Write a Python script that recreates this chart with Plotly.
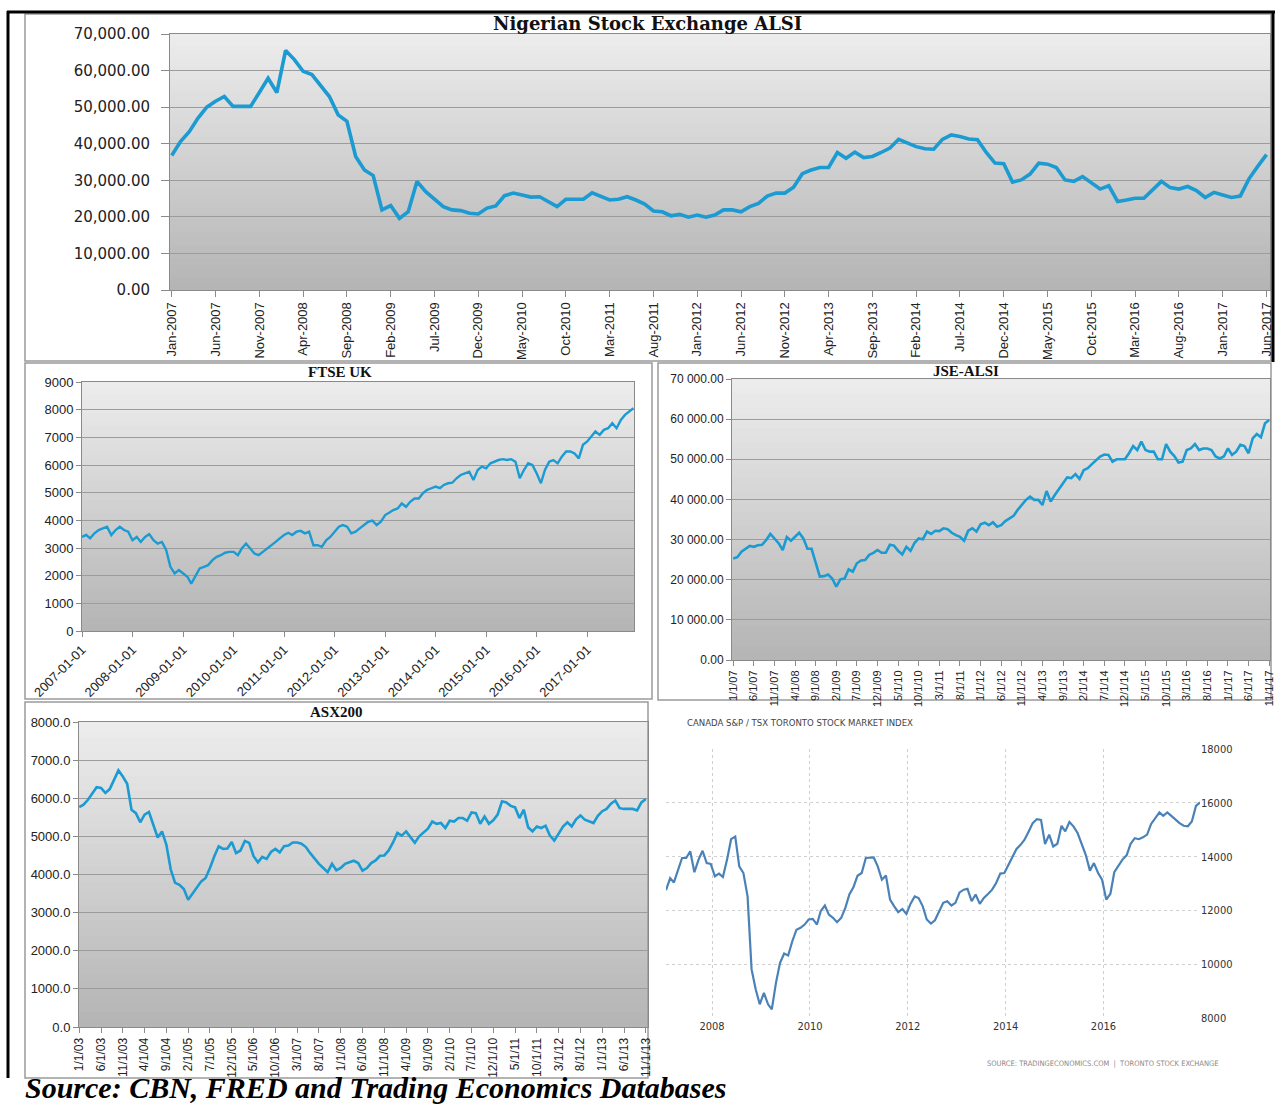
import plotly.graph_objects as go
import pandas as pd

W, H = 1275, 1108


def fx(p):
    return p / W


def fy(p):
    return 1 - p / H


# ---------------- DATA ----------------
# Nigerian Stock Exchange ALSI, monthly Jan-2007 .. Jun-2017
nig_values = [
    36800, 40600, 43300, 47000, 50000, 51600, 52900, 50200, 50200, 50200,
    54000, 57900, 54000, 65500, 63000, 59800, 58900, 55800, 52900, 47900,
    46100, 36500, 32800, 31300, 21900, 23100, 19600, 21400, 29700, 26900,
    24900, 22800, 21900, 21700, 21000, 20800, 22400, 23000, 25800, 26500,
    26000, 25400, 25500, 24200, 22800, 24800, 24800, 24800, 26600, 25700,
    24600, 24800, 25500, 24600, 23500, 21600,
    21400, 20300, 20700, 19900, 20500, 19900, 20500, 21900, 21900, 21400,
    22800, 23700, 25700, 26500, 26500, 28100, 31800, 32800, 33500, 33500,
    37600, 36000, 37700, 36200, 36500, 37600, 38800, 41200, 40300, 39200,
    38600, 38500, 41200, 42400, 42000, 41300, 41100, 37600, 34700, 34500,
    29500, 30100, 31700, 34700, 34400, 33500, 30100, 29700, 31000, 29200,
    27600, 28500, 24200, 24600, 25100, 25100, 27400, 29700, 28000, 27600,
    28300, 27200, 25300, 26700, 26000, 25300, 25700, 30400, 33800, 37000,
]
nig_months = list(pd.date_range("2007-01-01", periods=len(nig_values), freq="MS").strftime("%b-%Y"))
nig_ticks = nig_months[::5]

# FTSE UK, monthly Jan-2007 .. Dec-2017
ftse_values = [
    3400, 3470, 3350, 3530, 3650, 3710, 3770, 3470, 3650, 3770, 3650, 3590,
    3280, 3400, 3220, 3400, 3500, 3280, 3160, 3220, 2920, 2320, 2080, 2200,
    2080, 1960, 1710, 2020, 2260, 2320, 2380, 2560, 2680, 2740, 2830, 2860,
    2860, 2740, 2980, 3160, 2980, 2800, 2740, 2860, 2950, 3100, 3220, 3350,
    3470, 3550, 3470, 3590, 3620, 3530, 3590, 3100, 3100, 3040, 3280, 3400,
    3590, 3770, 3830, 3770, 3530, 3590, 3710, 3830, 3950, 3990, 3830, 3950,
    4190, 4280, 4370, 4430, 4610, 4490, 4670, 4790, 4790, 4980, 5100, 5160,
    5220, 5160, 5280, 5340, 5360, 5520, 5640, 5700, 5760, 5460, 5820, 5940,
    5880, 6060, 6120, 6180, 6210, 6180, 6210, 6120, 5520, 5820, 6060, 6000,
    5700, 5340, 5820, 6120, 6180, 6060, 6300, 6490, 6490, 6420, 6240, 6730,
    6850, 7030, 7210, 7090, 7270, 7330, 7510, 7330, 7630, 7810, 7930, 8050,
]
ftse_dates = list(pd.date_range("2007-01-01", periods=len(ftse_values), freq="MS").strftime("%Y-%m-%d"))

# JSE-ALSI, monthly 1/1/07 .. 11/1/17
jse_values = [
    25300, 25600, 27000, 27800, 28400, 28200, 28600, 28700, 29900, 31400,
    30300, 29100, 27400, 30600, 29700, 30600, 31700, 30300, 27700, 27700,
    24100, 20800, 20900, 21300, 20300, 18300, 20100, 20300, 22600, 22000,
    24100, 24800, 24900, 26200, 26700, 27400, 26700, 26700, 28700, 28500,
    27200, 26300, 28200, 27200, 29200, 30300, 30100, 32000, 31400, 32200,
    32100, 32800, 32600, 31700, 31100, 30700, 29700, 32200, 32800, 32000,
    33800, 34200, 33600, 34300, 33200, 33600, 34600, 35300, 35900, 37400,
    38600, 39900, 40700, 39900, 39900, 38600, 42100, 39500, 41100, 42400,
    44000, 45500, 45300, 46300, 45100, 47300, 47800, 48800, 49800, 50700,
    51200, 51100, 49400, 50000, 50000, 50000, 51500, 53300, 52300, 54400,
    52300, 51900, 51900, 50000, 50000, 53800, 51900, 50800, 49200, 49400,
    52300, 52700, 53800, 52300, 52700, 52700, 52300, 50700, 50200, 50700,
    52700, 51100, 51900, 53600, 53300, 51500, 55200, 56300, 55500, 59000, 59800,
]
jse_months = [f"{d.month}/1/{d.strftime('%y')}" for d in
              pd.date_range("2007-01-01", periods=len(jse_values), freq="MS")]
jse_ytick_vals = [0, 10000, 20000, 30000, 40000, 50000, 60000, 70000]
jse_ytick_text = ["0.00", "10 000.00", "20 000.00", "30 000.00", "40 000.00",
                  "50 000.00", "60 000.00", "70 000.00"]

# ASX200, monthly 1/1/03 .. 11/1/13
asx_values = [
    5770, 5830, 5960, 6120, 6290, 6270, 6140, 6240, 6490, 6730,
    6570, 6380, 5700, 5610, 5370, 5570, 5640, 5280, 4970, 5130,
    4780, 4130, 3780, 3730, 3620, 3340, 3510, 3650, 3820, 3910,
    4170, 4480, 4740, 4670, 4680, 4850, 4560, 4630, 4880, 4830,
    4480, 4320, 4460, 4410, 4590, 4670, 4580, 4740, 4760, 4840,
    4840, 4810, 4720, 4560, 4410, 4280, 4170, 4060, 4280, 4110,
    4170, 4280, 4320, 4360, 4300, 4100, 4170, 4300, 4370, 4490,
    4500, 4630, 4840, 5090, 5020, 5130, 4980, 4830, 5000, 5110,
    5200, 5390, 5330, 5350, 5220, 5410, 5390, 5480, 5480, 5410,
    5630, 5610, 5330, 5520, 5330, 5420, 5570, 5920, 5890, 5800,
    5760, 5480, 5700, 5240, 5130, 5260, 5220, 5280, 5020, 4890,
    5090, 5260, 5370, 5260, 5450, 5550, 5440, 5390, 5350, 5540,
    5660, 5720, 5860, 5940, 5740, 5720, 5720, 5720, 5680, 5890, 5980,
]
asx_months = [f"{d.month}/1/{d.strftime('%y')}" for d in
              pd.date_range("2003-01-01", periods=len(asx_values), freq="MS")]

# Canada S&P/TSX, monthly Jan-2007 .. Dec-2017
cad_values = [
    12750, 13200, 13040, 13510, 13950, 13950, 14200, 13420, 13890, 14220,
    13760, 13730, 13270, 13370, 13240, 13890, 14650, 14750, 13640, 13390,
    12520, 9800, 9050, 8500, 8930, 8500, 8310, 9300, 10040, 10390,
    10320, 10850, 11280, 11350, 11470, 11660, 11680, 11470, 11970, 12180,
    11840, 11720, 11560, 11720, 12090, 12590, 12870, 13290, 13390, 13950,
    13950, 13970, 13640, 13140, 13300, 12400, 12150, 11930, 12050, 11870,
    12250, 12520, 12460, 12150, 11660, 11510, 11630, 11930, 12280, 12340,
    12180, 12280, 12670, 12770, 12800, 12340, 12590, 12240, 12460, 12610,
    12770, 13020, 13370, 13390, 13690, 14010, 14280, 14440, 14630, 14940,
    15250, 15400, 15370, 14470, 14820, 14380, 14480, 15150, 14940, 15290,
    15130, 14880, 14510, 14070, 13480, 13760, 13390, 13140, 12400, 12620,
    13420, 13640, 13890, 14050, 14480, 14690, 14650, 14720, 14820, 15220,
    15440, 15650, 15520, 15650, 15520, 15370, 15250, 15150, 15130, 15310,
    15890, 16020,
]
cad_dates = [f"{2007 + i // 12}-{i % 12 + 1:02d}-22" for i in range(len(cad_values))]
cad_yticks = [8000, 10000, 12000, 14000, 16000, 18000]

# ---------------- STYLE ----------------
BLUE = "#1b9bd1"
CAD_BLUE = "#4a82b8"
GRID = "#9c9c9c"
AXLINE = "#8a8a8a"
SANS = "Liberation Sans, Arial, sans-serif"
NARROW = "Liberation Sans Narrow, DejaVu Sans Condensed, Roboto Condensed, Liberation Sans, sans-serif"
SERIF = "Liberation Serif, Times New Roman, serif"

fig = go.Figure()
fig.add_trace(go.Scatter(x=nig_months, y=nig_values, mode="lines",
                         line=dict(color=BLUE, width=3.6), xaxis="x", yaxis="y"))
fig.add_trace(go.Scatter(x=ftse_dates, y=ftse_values, mode="lines",
                         line=dict(color=BLUE, width=2.4), xaxis="x2", yaxis="y2"))
fig.add_trace(go.Scatter(x=jse_months, y=jse_values, mode="lines",
                         line=dict(color=BLUE, width=2.6), xaxis="x3", yaxis="y3"))
fig.add_trace(go.Scatter(x=asx_months, y=asx_values, mode="lines",
                         line=dict(color=BLUE, width=2.6), xaxis="x4", yaxis="y4"))
fig.add_trace(go.Scatter(x=cad_dates, y=cad_values, mode="lines",
                         line=dict(color=CAD_BLUE, width=2.2), xaxis="x5", yaxis="y5"))

common_x = dict(showline=True, mirror=True, linecolor=AXLINE, linewidth=1,
                ticks="outside", tickcolor=AXLINE, ticklen=5, showgrid=False, zeroline=False)
common_y = dict(showline=True, mirror=True, linecolor=AXLINE, linewidth=1,
                ticks="outside", tickcolor=AXLINE, ticklen=5, showgrid=True,
                gridcolor=GRID, gridwidth=1, zeroline=False)

layout = dict(
    width=W, height=H, autosize=False,
    margin=dict(l=0, r=0, t=0, b=0, pad=0, autoexpand=False),
    paper_bgcolor="white", plot_bgcolor="rgba(0,0,0,0)", showlegend=False,
    hovermode=False,
    xaxis=dict(domain=[fx(170), fx(1270)], anchor="y", type="category",
               range=[-0.2, 125.4], tickmode="array", tickvals=nig_ticks, ticktext=nig_ticks,
               tickangle=-90, tickfont=dict(family=SANS, size=13, color="#222"),
               **{**common_x, "ticklen": 6}),
    yaxis=dict(domain=[fy(290), fy(34)], anchor="x", range=[0, 70000], dtick=10000,
               tickformat=",.2f", tickfont=dict(family="DejaVu Sans, sans-serif", size=15, color="#222"),
               ticklabelstandoff=8, **{**common_y, "ticklen": 8}),
    xaxis2=dict(domain=[fx(82), fx(634)], anchor="y2", type="date",
                range=["2007-01-01", "2017-12-05"], dtick="M12", tick0="2007-01-01",
                tickformat="%Y-%m-%d", tickangle=-45,
                tickfont=dict(family=SANS, size=13, color="#222"), **common_x),
    yaxis2=dict(domain=[fy(631), fy(382)], anchor="x2", range=[0, 9000], dtick=1000,
                tickformat="d", tickfont=dict(family=SANS, size=13, color="#222"), **common_y),
    xaxis3=dict(domain=[fx(732), fx(1270)], anchor="y3", type="category",
                range=[-0.3, 130.2], tickmode="array", tickvals=jse_months[::5],
                ticktext=jse_months[::5], tickangle=-90,
                tickfont=dict(family=SANS, size=11, color="#222"), **common_x),
    yaxis3=dict(domain=[fy(660), fy(379)], anchor="x3", range=[0, 70000],
                tickmode="array", tickvals=jse_ytick_vals, ticktext=jse_ytick_text,
                tickfont=dict(family=SANS, size=12, color="#222"), **common_y),
    xaxis4=dict(domain=[fx(79), fx(648)], anchor="y4", type="category",
                range=[-0.05, 130.5], tickmode="array", tickvals=asx_months[::5],
                ticktext=asx_months[::5], tickangle=-90,
                tickfont=dict(family=SANS, size=12, color="#222"), **common_x),
    yaxis4=dict(domain=[fy(1027), fy(722)], anchor="x4", range=[0, 8000], dtick=1000,
                tickformat=".1f", tickfont=dict(family=SANS, size=13, color="#222"), **common_y),
    xaxis5=dict(domain=[fx(666), fx(1200)], anchor="y5", type="date",
                range=["2007-01-22", "2017-12-22"], dtick="M24", tick0="2008-01-01",
                tickformat="%Y", showgrid=True, gridcolor="#cfcfcf", griddash="dot",
                gridwidth=1, showline=False, zeroline=False, ticks="",
                tickfont=dict(family=NARROW, size=11, color="#333")),
    yaxis5=dict(domain=[fy(1018), fy(749)], anchor="x5", side="right",
                range=[7990, 18010], tickmode="array",
                tickvals=cad_yticks, ticktext=[str(v) for v in cad_yticks],
                showgrid=True, gridcolor="#cfcfcf", griddash="dot", gridwidth=1,
                showline=False, zeroline=False, ticks="",
                tickfont=dict(family=NARROW, size=11, color="#333")),
)

shapes = []
# gradient plot backgrounds
N = 40
top_c, bot_c = 237, 180
for ax in ["", "2", "3", "4"]:
    for k in range(N):
        t = (k + 0.5) / N
        c = int(round(bot_c + (top_c - bot_c) * t))
        shapes.append(dict(type="rect", xref=f"x{ax} domain", yref=f"y{ax} domain",
                           x0=0, x1=1, y0=k / N, y1=min(1, (k + 1) / N + 0.004),
                           fillcolor=f"rgb({c},{c},{c})", line=dict(width=0), layer="below"))

# panel borders
for (x0, y0, x1, y1) in [(25, 14, 1271, 361), (25, 363, 652, 699),
                         (658, 363, 1271, 700), (25, 702, 648, 1078)]:
    shapes.append(dict(type="rect", xref="paper", yref="paper",
                       x0=fx(x0), x1=fx(x1), y0=fy(y1), y1=fy(y0),
                       line=dict(color="#9a9a9a", width=1.5), fillcolor="rgba(0,0,0,0)",
                       layer="below"))
# black frame lines
shapes.append(dict(type="line", xref="paper", yref="paper", x0=fx(7), x1=fx(1275),
                   y0=fy(12), y1=fy(12), line=dict(color="black", width=3)))
shapes.append(dict(type="line", xref="paper", yref="paper", x0=fx(8), x1=fx(8),
                   y0=fy(11), y1=fy(1078), line=dict(color="black", width=3)))
shapes.append(dict(type="line", xref="paper", yref="paper", x0=fx(1273), x1=fx(1273),
                   y0=fy(11), y1=fy(362), line=dict(color="black", width=3)))
layout["shapes"] = shapes

annotations = [
    dict(text="<b>Nigerian Stock Exchange ALSI</b>", x=fx(648), y=fy(24),
         font=dict(family="DejaVu Serif, serif", size=18, color="#111")),
    dict(text="<b>FTSE UK</b>", x=fx(340), y=fy(372),
         font=dict(family=SERIF, size=15, color="#111")),
    dict(text="<b>JSE-ALSI</b>", x=fx(966), y=fy(371),
         font=dict(family=SERIF, size=15, color="#111")),
    dict(text="<b>ASX200</b>", x=fx(336), y=fy(712),
         font=dict(family=SERIF, size=15, color="#111")),
    dict(text="CANADA S&amp;P / TSX TORONTO STOCK MARKET INDEX", x=fx(685), y=fy(722),
         xanchor="left", font=dict(family=NARROW, size=9.5, color="#444")),
    dict(text="SOURCE: TRADINGECONOMICS.COM  |  TORONTO STOCK EXCHANGE", x=fx(1220), y=fy(1063),
         xanchor="right", font=dict(family=NARROW, size=7.5, color="#8a8a8a")),
    dict(text="<b><i>Source: CBN, FRED and Trading Economics Databases</i></b>",
         x=fx(23), y=fy(1069), xanchor="left", yanchor="top",
         font=dict(family=SERIF, size=30, color="black")),
]
for a in annotations:
    a.setdefault("xref", "paper")
    a.setdefault("yref", "paper")
    a.setdefault("showarrow", False)
    a.setdefault("xanchor", "center")
    a.setdefault("yanchor", "middle")
layout["annotations"] = annotations

fig.update_layout(**layout)
fig.update_traces(hoverinfo="skip", showlegend=False)
fig.write_html(
    "out.html",
    config={"displayModeBar": False},
    post_script="document.body.style.margin='0px';document.body.style.overflow='hidden';",
)
